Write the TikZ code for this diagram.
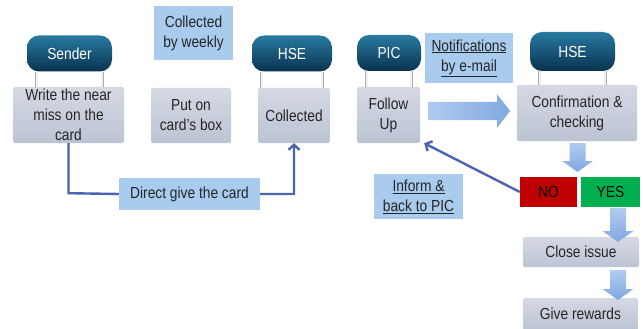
\documentclass[tikz,border=0pt]{standalone}
\usepackage{fontspec}
\setmainfont[FakeStretch=0.86]{Liberation Sans}
\usepackage{tikz}
\usetikzlibrary{arrows.meta}
\definecolor{headtop}{RGB}{40,122,160}
\definecolor{headbot}{RGB}{9,50,80}
\definecolor{boxtop}{RGB}{212,217,227}
\definecolor{boxbot}{RGB}{188,196,211}
\definecolor{notefill}{RGB}{168,203,238}
\definecolor{linkblue}{RGB}{74,100,178}
\definecolor{arrlight}{RGB}{176,203,240}
\definecolor{arrdark}{RGB}{128,168,226}
\definecolor{nored}{RGB}{192,0,0}
\definecolor{yesgreen}{RGB}{0,176,80}

\begin{document}
\begin{tikzpicture}[
        x=1pt, y=-1pt,
        every node/.style={font=\fontsize{16}{20}\selectfont, align=center, inner sep=1pt},
        head/.style={rounded corners=12pt, top color=headtop, bottom color=headbot,
            text=white, minimum width=#1, minimum height=36pt},
        stepbox/.style={rounded corners=2pt, top color=boxtop, bottom color=boxbot,
            text=black!85, minimum width=#1},
        note/.style={fill=notefill, text=black!85, minimum width=#1},
        peg/.style={line width=3.2pt, draw=gray!65},
        pegin/.style={line width=1.6pt, draw=gray!12},
        link/.style={line width=2.4pt, draw=linkblue, -{Straight Barb[length=5pt,width=11pt]}},
        fatdown/.style={top color=arrlight, bottom color=arrdark},
        fatright/.style={left color=arrlight, right color=arrdark}
    ]
    \useasboundingbox (0,0) rectangle (643,329);

    % boxes
    \node[stepbox=111pt, minimum height=56pt] (write) at (68.5,115) {Write the near\\miss on the\\card};
    \node[stepbox=80pt, minimum height=55pt] (putbox) at (191,115.5) {Put on\\card's box};
    \node[stepbox=72pt, minimum height=55pt] (collected) at (294,115.5) {Collected};
    \node[stepbox=63pt, minimum height=56pt] (follow) at (388.5,115) {Follow\\Up};
    \node[stepbox=120pt, minimum height=56pt] (confirm) at (577,113) {Confirmation \&\\checking};
    \node[stepbox=116pt, minimum height=30pt] (close) at (581,252) {Close issue};
    \node[stepbox=115pt, minimum height=32pt] (rewards) at (580.5,314) {Give rewards};

    % headers
    \node[head=85pt] (sender) at (69.5,53.5) {Sender};
    \node[head=80pt] (hsea) at (292,53.5) {HSE};
    \node[head=64pt] (pic) at (389,53) {PIC};
    \node[head=85pt, minimum height=39pt] (hseb) at (572.5,51.5) {HSE};

    \foreach \h/\b in {sender/write, hsea/collected, pic/follow, hseb/confirm} {
        \draw[peg] ([xshift=10pt]\h.south west) -- ([xshift=10pt]\h.south west |- \b.north);
        \draw[pegin] ([xshift=10pt]\h.south west) -- ([xshift=10pt]\h.south west |- \b.north);
        \draw[peg] ([xshift=-10pt]\h.south east) -- ([xshift=-10pt]\h.south east |- \b.north);
        \draw[pegin] ([xshift=-10pt]\h.south east) -- ([xshift=-10pt]\h.south east |- \b.north);
    }

    % notes
    \node[note=79pt, minimum height=54pt] (weekly) at (193.5,33) {Collected\\by weekly};
    \node[note=88pt, minimum height=50pt] (notif) at (469,58) {\underline{Notifications}\\\underline{by e-mail}};
    \node[note=141pt, minimum height=32pt] (direct) at (189.5,194) {Direct give the card};
    \node[note=89pt, minimum height=45pt] (inform) at (418.5,196.5) {\underline{Inform \&}\\\underline{back to PIC}};

    % decision
    \node[fill=nored, minimum width=57pt, minimum height=30pt] (no) at (548.5,192) {NO};
    \node[fill=yesgreen, minimum width=59pt, minimum height=30pt] (yes) at (610.5,192) {YES};

    % big arrows
    \shade[fatright] (428,102) -- (497,102) -- (497,94) -- (510,111) -- (497,128) -- (497,120) -- (428,120) -- cycle;
    \shade[fatdown] (569.5,143) -- (585.5,143) -- (585.5,161) -- (593,161) -- (577.5,172) -- (562,161) -- (569.5,161) -- cycle;
    \shade[fatdown] (610,208) -- (626,208) -- (626,231) -- (633.5,231) -- (618,242) -- (602.5,231) -- (610,231) -- cycle;
    \shade[fatdown] (610,270) -- (626,270) -- (626,289) -- (633.5,289) -- (618,300) -- (602.5,289) -- (610,289) -- cycle;

    % links
    \draw[link] (write.south) -- ++(0,50) -- (direct.west) (direct.east) -| (collected.south);
    \draw[link] (no.west) -- ([xshift=4pt]follow.south east);
\end{tikzpicture}
\end{document}
